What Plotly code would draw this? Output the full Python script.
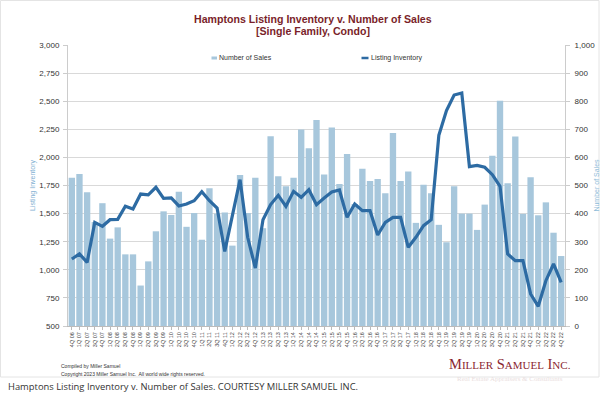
import plotly.graph_objects as go

quarters = ["4Q 06"] + [f"{q}Q {y:02d}" for y in range(7, 23) for q in range(1, 5)]

sales = [528, 541, 476, 370, 437, 311, 351, 255, 255, 144, 230, 337, 408, 395, 478, 353,
         402, 307, 490, 400, 404, 286, 537, 402, 528, 348, 675, 533, 497, 528, 699, 633,
         733, 539, 706, 505, 612, 434, 560, 516, 523, 472, 687, 516, 550, 367, 503, 472,
         360, 298, 497, 400, 400, 342, 432, 606, 802, 508, 674, 399, 529, 394, 440, 332, 249]

inventory = [1096, 1141, 1066, 1422, 1387, 1446, 1449, 1565, 1541, 1674, 1666, 1734, 1636, 1639, 1568, 1585,
             1615, 1695, 1615, 1550, 1164, 1482, 1802, 1289, 1016, 1446, 1580, 1663, 1565, 1698, 1645, 1713,
             1580, 1639, 1692, 1710, 1467, 1585, 1526, 1526, 1310, 1422, 1467, 1467, 1200, 1289, 1393, 1446,
             2196, 2416, 2555, 2573, 1918, 1929, 1912, 1846, 1743, 1141, 1081, 1081, 785, 675, 903, 1052, 889]

left_ticks = list(range(500, 3001, 250))
right_ticks = list(range(0, 1001, 100))

BAR = "#A7C7DC"
LINE = "#2D6BA3"
TITLE_RED = "#7A1F2A"
FONT = "Liberation Sans, Arial, sans-serif"

L, R, T, B = 68, 565, 45, 326
W, H = R - L, B - T

def px(x):
    return (x - L) / W

def py(y):
    return (B - y) / H

def note(text, x, y, size, color, family=FONT, xanchor="left"):
    fig.add_annotation(text=text, xref="paper", yref="paper", x=px(x), y=py(y),
                       xanchor=xanchor, yanchor="middle", showarrow=False,
                       font=dict(size=size, color=color, family=family))

fig = go.Figure()
fig.add_trace(go.Bar(x=quarters, y=sales, marker_color=BAR, marker_line_width=0,
                     name="Number of Sales", yaxis="y"))
fig.add_trace(go.Scatter(x=quarters, y=inventory, mode="lines", line=dict(color=LINE, width=3.2),
                         name="Listing Inventory", yaxis="y2"))

fig.update_layout(
    width=600, height=393,
    margin=dict(l=L, r=600 - R, t=T, b=393 - B, autoexpand=False),
    paper_bgcolor="white", plot_bgcolor="white",
    showlegend=False, bargap=0.17,
    font=dict(family=FONT, size=8, color="#333"),
    xaxis=dict(type="category", tickangle=-90, tickfont=dict(size=5.5, color="#444"),
               showgrid=False, showline=True, linecolor="#bbb", linewidth=1, automargin=False,
               ticks="outside", ticklen=3, tickcolor="#bbb"),
    yaxis=dict(range=[0, 1000], tickvals=right_ticks, side="right", automargin=False,
               tickformat=",", showgrid=True, gridcolor="#d9d9d9", gridwidth=1,
               showline=True, linecolor="#ccc", ticks="outside", ticklen=4, tickcolor="#ccc",
               ticklabelstandoff=3,
               tickfont=dict(size=8, color="#333"), zeroline=False,
               title=dict(text="Number of Sales", font=dict(size=7, color="#8FBCD9"), standoff=1)),
    yaxis2=dict(range=[500, 3000], tickvals=left_ticks, side="left", overlaying="y", automargin=False,
                tickformat=",", showgrid=False, showline=True, linecolor="#ccc",
                ticks="outside", ticklen=4, tickcolor="#ccc", ticklabelstandoff=2,
                tickfont=dict(size=8, color="#333"), zeroline=False,
                title=dict(text="Listing Inventory", font=dict(size=7, color="#7FB0D2"), standoff=2)),
)

# Title
note("<b>Hamptons Listing Inventory v. Number of Sales</b>", 313, 18.5, 10.6, TITLE_RED, xanchor="center")
note("<b>[Single Family, Condo]</b>", 313, 31, 10.6, TITLE_RED, xanchor="center")

# Legend (manual)
fig.add_shape(type="rect", xref="paper", yref="paper", x0=px(211.5), x1=px(217), y0=py(59.5), y1=py(56.5),
              fillcolor=BAR, line_width=0)
note("Number of Sales", 216.5, 58, 7, "#333")
fig.add_shape(type="line", xref="paper", yref="paper", x0=px(361.5), x1=px(368.5), y0=py(58), y1=py(58),
              line=dict(color=LINE, width=2.5))
note("Listing Inventory", 368.5, 58, 7, "#333")

# Footer notes
note("Compiled by Miller Samuel", 59, 366, 5, "#333")
note("Copyright 2023 Miller Samuel Inc.  All world wide rights reserved.", 59, 374, 5, "#333")
note("M<span style='font-size:11px'>ILLER</span> S<span style='font-size:11px'>AMUEL</span> I<span style='font-size:11px'>NC.</span>",
     510, 364, 14.5, "#8A2630", family="Liberation Serif, Times New Roman, serif", xanchor="center")
note("Real Estate Appraisers &amp; Consultants", 510, 379, 7, "#eadede",
     family="Liberation Serif, serif", xanchor="center")

# Frame around the chart image
fig.add_shape(type="rect", xref="paper", yref="paper", x0=px(0.5), x1=px(599), y0=py(377), y1=py(0.5),
              line=dict(color="#e4e4e4", width=1), fillcolor="rgba(0,0,0,0)", layer="below")

# Caption
note("Hamptons Listing Inventory v. Number of Sales. COURTESY MILLER SAMUEL INC.", 6, 386.5, 9.4,
     "#333", family="Open Sans, sans-serif")

fig.write_html("out.html", config={"displayModeBar": False},
               post_script="document.body.style.margin='0';document.body.style.padding='0';")
